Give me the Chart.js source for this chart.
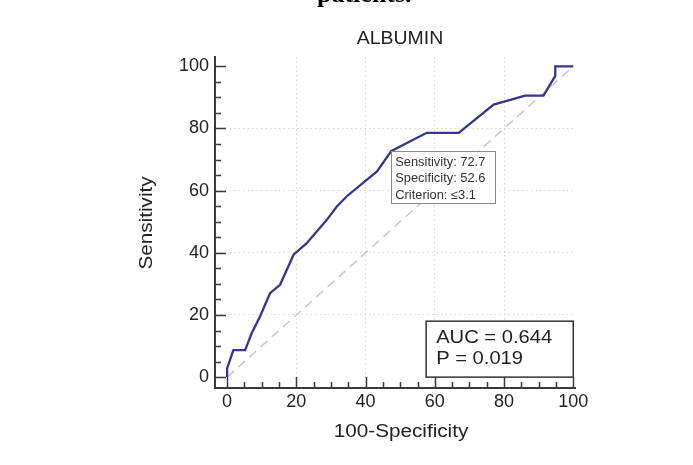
<!DOCTYPE html>
<html>
<head>
<meta charset="utf-8">
<style>
  html, body { margin: 0; padding: 0; background: #fff; }
  #wrap { width: 693px; height: 465px; position: relative; }
</style>
<script src="https://cdn.jsdelivr.net/npm/chart.js@4.4.1/dist/chart.umd.min.js"></script>
</head>
<body>
<div id="wrap"><canvas id="roc" width="693" height="465"></canvas></div>
<script>
// ROC curve (100-Specificity, Sensitivity)
var fpr = [0, 0, 1.8, 5.2, 7.1, 9.5, 12.4, 15.3, 19.2, 23, 28.8, 31.7, 34.6, 43.3, 47.4, 52.9, 57.7, 66.9, 77, 86.1, 91.4, 94.8, 94.8, 100];
var tpr = [0, 2.8, 8.7, 8.7, 14.1, 19.5, 27, 29.7, 39.4, 43.1, 50.6, 54.9, 58.2, 66.2, 72.7, 75.9, 78.6, 78.6, 87.7, 90.6, 90.6, 96.9, 100, 100];
var refX = [0, 100];
var refY = [0, 100];
var tickVals = [0, 20, 40, 60, 80, 100];
var tickLabels = ["0", "20", "40", "60", "80", "100"];
var cutPoint = { x: 47.4, y: 72.7 };
var cutLines = ["Sensitivity: 72.7", "Specificity: 52.6", "Criterion: \u22643.1"];
var statLines = ["AUC = 0.644", "P = 0.019"];

var FONT = "'Liberation Sans', Arial, sans-serif";
var AXIS = "#3a3a3a";

function pts(xs, ys) {
  return xs.map(function (x, i) { return { x: x, y: ys[i] }; });
}

function stretchText(ctx, text, x, y, sx, align) {
  ctx.save();
  ctx.translate(x, y);
  ctx.scale(sx, 1);
  ctx.textAlign = align || "left";
  ctx.fillText(text, 0, 0);
  ctx.restore();
}

var extras = {
  id: "extras",
  afterDraw: function (chart) {
    var ctx = chart.ctx;
    var xs = chart.scales.x, ys = chart.scales.y;
    var area = chart.chartArea;

    // inward ticks, major every 20, minor every 5
    ctx.save();
    ctx.strokeStyle = AXIS;
    ctx.lineWidth = 1.5;
    for (var v = 0; v <= 100; v += 5) {
      var len = v % 20 === 0 ? 11 : 6;
      var px = Math.round(xs.getPixelForValue(v)) + 0.5;
      var py = Math.round(ys.getPixelForValue(v)) + 0.5;
      ctx.beginPath();
      ctx.moveTo(px, area.bottom);
      ctx.lineTo(px, area.bottom - len);
      ctx.moveTo(area.left, py);
      ctx.lineTo(area.left + len, py);
      ctx.stroke();
    }
    ctx.restore();

    ctx.save();
    // cut-off text from the page above
    ctx.fillStyle = "#000";
    ctx.font = "bold 26px 'Liberation Serif', serif";
    ctx.textBaseline = "alphabetic";
    ctx.textAlign = "left";
    ctx.fillText("patients.", 317, 2);

    ctx.fillStyle = "#222";
    ctx.textBaseline = "middle";
    ctx.font = "18px " + FONT;
    stretchText(ctx, "ALBUMIN", 400, 39, 1.08, "center");
    stretchText(ctx, "100-Specificity", 401, 432, 1.15, "center");

    ctx.save();
    ctx.translate(147, 223);
    ctx.rotate(-Math.PI / 2);
    ctx.scale(1.15, 1);
    ctx.textAlign = "center";
    ctx.fillText("Sensitivity", 0, 0);
    ctx.restore();

    // criterion box anchored at the cut-off point
    var bx = xs.getPixelForValue(cutPoint.x);
    var by = ys.getPixelForValue(cutPoint.y);
    var bw = 104, bh = 52;
    ctx.fillStyle = "#fff";
    ctx.fillRect(bx, by, bw, bh);
    ctx.strokeStyle = "#8a8a8a";
    ctx.lineWidth = 1;
    ctx.strokeRect(Math.round(bx) + 0.5, Math.round(by) + 0.5, bw, bh);
    ctx.fillStyle = "#333";
    ctx.font = "12.5px " + FONT;
    cutLines.forEach(function (t, i) {
      stretchText(ctx, t, bx + 4, by + 11 + i * 16.5, 1.03, "left");
    });

    // AUC box in the lower right corner
    var ax0 = xs.getPixelForValue(57.5), ax1 = xs.getPixelForValue(100);
    var ay0 = ys.getPixelForValue(18), ay1 = ys.getPixelForValue(0);
    ctx.fillStyle = "#fff";
    ctx.fillRect(ax0, ay0, ax1 - ax0, ay1 - ay0);
    ctx.strokeStyle = "#333";
    ctx.lineWidth = 1.5;
    ctx.strokeRect(ax0, ay0, ax1 - ax0, ay1 - ay0);
    ctx.fillStyle = "#222";
    ctx.font = "18px " + FONT;
    statLines.forEach(function (t, i) {
      stretchText(ctx, t, ax0 + 10, ay0 + 17 + i * 21, 1.12, "left");
    });
    ctx.restore();
  }
};

function gridColor(c) {
  var v = c.tick ? c.tick.value : null;
  return (v === 0 || v === 100) ? "rgba(0,0,0,0)" : "#d6d6d6";
}

new Chart(document.getElementById("roc").getContext("2d"), {
  type: "scatter",
  data: {
    datasets: [
      {
        label: "ROC",
        data: pts(fpr, tpr),
        showLine: true,
        borderColor: "#36368c",
        borderWidth: 2.3,
        pointRadius: 0,
        tension: 0,
        order: 1
      },
      {
        label: "reference",
        data: pts(refX, refY),
        showLine: true,
        borderColor: "#c8c8c8",
        borderWidth: 1.5,
        borderDash: [9, 6],
        pointRadius: 0,
        order: 2
      }
    ]
  },
  options: {
    responsive: false,
    animation: false,
    events: [],
    layout: { padding: { left: 0, top: 57, right: 118, bottom: 0 } },
    plugins: { legend: { display: false }, tooltip: { enabled: false } },
    scales: {
      x: {
        type: "linear",
        min: -3.5,
        max: 100.5,
        afterFit: function (s) { s.height = 77; },
        afterBuildTicks: function (s) { s.ticks = tickVals.map(function (v) { return { value: v }; }); },
        ticks: {
          padding: 3,
          color: "#222",
          font: { family: FONT, size: 18 },
          maxRotation: 0,
          callback: function (v) { return tickLabels[tickVals.indexOf(v)]; }
        },
        grid: { color: gridColor, lineWidth: 1, drawTicks: false },
        border: { display: true, color: AXIS, width: 2, dash: [1.5, 3] }
      },
      y: {
        type: "linear",
        min: -3.5,
        max: 103,
        afterFit: function (s) { s.width = 215; },
        afterBuildTicks: function (s) { s.ticks = tickVals.map(function (v) { return { value: v }; }); },
        ticks: {
          padding: 6,
          color: "#222",
          font: { family: FONT, size: 18 },
          callback: function (v) { return tickLabels[tickVals.indexOf(v)]; }
        },
        grid: { color: gridColor, lineWidth: 1, drawTicks: false },
        border: { display: true, color: AXIS, width: 2, dash: [1.5, 3] }
      }
    }
  },
  plugins: [extras]
});
</script>
</body>
</html>
